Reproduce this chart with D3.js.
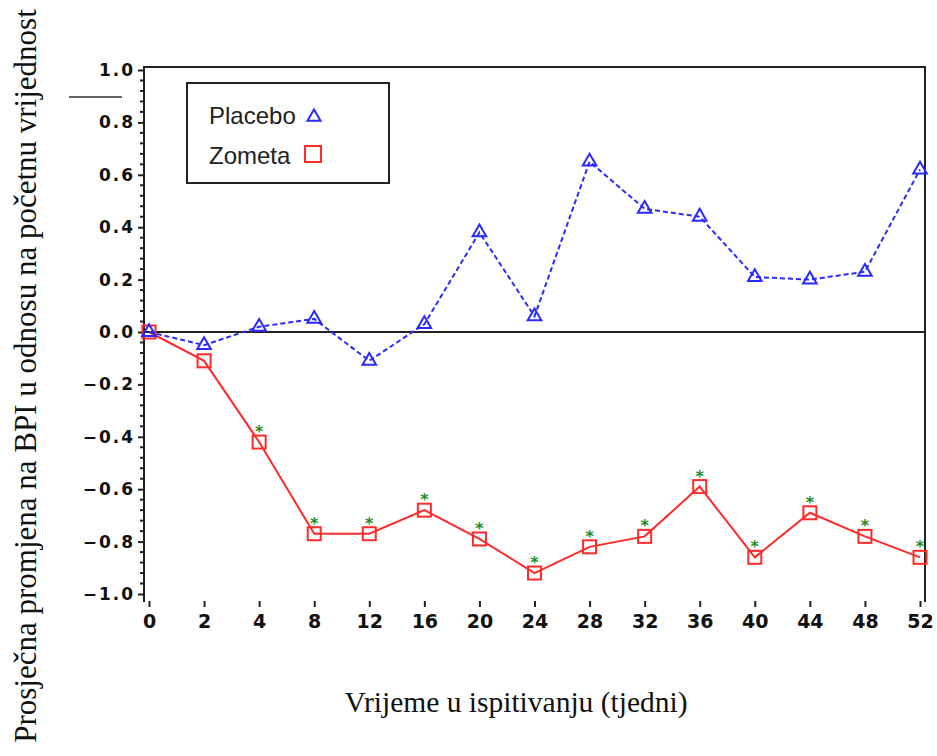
<!DOCTYPE html>
<html>
<head>
<meta charset="utf-8">
<script src="https://cdn.jsdelivr.net/npm/d3@7.9.0/dist/d3.min.js"></script>
<style>
  body { margin: 0; background: #fff; }
  svg { display: block; }
</style>
</head>
<body>
<svg id="chart" width="937" height="756"></svg>
<script>
// weeks on the x axis (equally spaced categories)
const weeks = ['0', '2', '4', '8', '12', '16', '20', '24', '28', '32', '36', '40', '44', '48', '52'];
const placebo = [0.0, -0.05, 0.02, 0.05, -0.11, 0.03, 0.38, 0.06, 0.65, 0.47, 0.44, 0.21, 0.20, 0.23, 0.62];
const zometa = [0.0, -0.11, -0.42, -0.77, -0.77, -0.68, -0.79, -0.92, -0.82, -0.78, -0.59, -0.86, -0.69, -0.78, -0.86];
// weeks where zometa differs significantly (asterisk)
const starred = ['4', '8', '12', '16', '20', '24', '28', '32', '36', '40', '44', '48', '52'];
const yTicks = [1.0, 0.8, 0.6, 0.4, 0.2, 0.0, -0.2, -0.4, -0.6, -0.8, -1.0];

const blue = '#2a2aff', red = '#ff2a2a', green = '#1f8a1f';

const svg = d3.select('#chart');

let x = d3.scalePoint().domain(weeks).range([149, 920]);
let y = d3.scaleLinear().domain([-1, 1]).range([594, 70]);

// frame: left, top, right (no bottom line)
svg.append('path')
  .attr('d', `M144,602 V67 H925 V602`)
  .attr('fill', 'none')
  .attr('stroke', '#222')
  .attr('stroke-width', 2);

// y axis major ticks + labels
let yAxis = d3.axisLeft(y)
  .tickValues(yTicks)
  .tickSize(6)
  .tickPadding(3)
  .tickFormat(d => d3.format('.1f')(d).replace('-', '\u2013'));
let gy = svg.append('g').attr('transform', 'translate(144,0)').call(yAxis);
gy.select('.domain').remove();
gy.selectAll('line').attr('stroke', '#222').attr('stroke-width', 2);
gy.selectAll('text')
  .attr('font-family', 'DejaVu Sans, sans-serif')
  .attr('font-weight', 'bold')
  .attr('font-size', 17)
  .attr('letter-spacing', 2)
  .attr('fill', '#111');

// minor ticks every 0.04
let minor = d3.range(-1, 1.0001, 0.04).filter(v => Math.abs(Math.round(v * 5) - v * 5) > 0.01);
svg.append('g').selectAll('line').data(minor).join('line')
  .attr('x1', 140).attr('x2', 144)
  .attr('y1', d => y(d)).attr('y2', d => y(d))
  .attr('stroke', '#222').attr('stroke-width', 2);

// x axis: ticks detached below the plot
let xAxis = d3.axisBottom(x).tickSize(6).tickPadding(8);
let gx = svg.append('g').attr('transform', 'translate(0,601)').call(xAxis);
gx.select('.domain').remove();
gx.selectAll('line').attr('stroke', '#222').attr('stroke-width', 2);
gx.selectAll('text')
  .attr('font-family', 'DejaVu Sans, sans-serif')
  .attr('font-weight', 'bold')
  .attr('font-size', 19)
  .attr('fill', '#111');

// zero reference line
svg.append('line')
  .attr('x1', 144).attr('x2', 925)
  .attr('y1', y(0)).attr('y2', y(0))
  .attr('stroke', '#222').attr('stroke-width', 2);

// stray mark left of the axis
svg.append('line')
  .attr('x1', 69).attr('x2', 122).attr('y1', 97).attr('y2', 97)
  .attr('stroke', '#333').attr('stroke-width', 1.5);

let line = d3.line().x((d, i) => x(weeks[i])).y(d => y(d));

// zometa line + squares
svg.append('path')
  .datum(zometa)
  .attr('d', line)
  .attr('fill', 'none')
  .attr('stroke', red)
  .attr('stroke-width', 2);

svg.append('g').selectAll('rect').data(zometa).join('rect')
  .attr('x', (d, i) => x(weeks[i]) - 6.5)
  .attr('y', d => y(d) - 6.5)
  .attr('width', 13).attr('height', 13)
  .attr('fill', 'none')
  .attr('stroke', red)
  .attr('stroke-width', 2);

// significance asterisks
svg.append('g').selectAll('text').data(zometa.map((v, i) => [weeks[i], v]).filter(d => starred.includes(d[0])))
  .join('text')
  .attr('x', d => x(d[0]))
  .attr('y', d => y(d[1]) - 5)
  .attr('text-anchor', 'middle')
  .attr('font-family', 'DejaVu Sans, sans-serif')
  .attr('font-weight', 'bold')
  .attr('font-size', 16)
  .attr('fill', green)
  .text('*');

// placebo dashed line + triangles
svg.append('path')
  .datum(placebo)
  .attr('d', line)
  .attr('fill', 'none')
  .attr('stroke', blue)
  .attr('stroke-width', 2)
  .attr('stroke-dasharray', '5,3');

let tri = d3.symbol().type(d3.symbolTriangle).size(80);
svg.append('g').selectAll('path').data(placebo).join('path')
  .attr('transform', (d, i) => `translate(${x(weeks[i])},${y(d)})`)
  .attr('d', tri)
  .attr('fill', 'none')
  .attr('stroke', blue)
  .attr('stroke-width', 2);

// legend
let lg = svg.append('g');
lg.append('rect')
  .attr('x', 187).attr('y', 83).attr('width', 202).attr('height', 100)
  .attr('fill', '#fff').attr('stroke', '#222').attr('stroke-width', 2);
lg.append('text').attr('x', 209).attr('y', 124)
  .attr('font-family', 'Liberation Sans, Arial, sans-serif').attr('font-size', 24).attr('fill', '#222')
  .text('Placebo');
lg.append('path')
  .attr('transform', 'translate(314,117)')
  .attr('d', d3.symbol().type(d3.symbolTriangle).size(75))
  .attr('fill', 'none').attr('stroke', blue).attr('stroke-width', 2);
lg.append('text').attr('x', 209).attr('y', 164)
  .attr('font-family', 'Liberation Sans, Arial, sans-serif').attr('font-size', 24).attr('fill', '#222')
  .text('Zometa');
lg.append('rect')
  .attr('x', 305).attr('y', 146).attr('width', 16).attr('height', 16)
  .attr('fill', 'none').attr('stroke', red).attr('stroke-width', 2);

// axis titles
svg.append('text')
  .attr('transform', 'translate(36,376) rotate(-90)')
  .attr('text-anchor', 'middle')
  .attr('font-family', 'Liberation Serif, Times New Roman, serif')
  .attr('font-size', 31)
  .attr('fill', '#111')
  .text('Prosječna promjena na BPI u odnosu na početnu vrijednost');

svg.append('text')
  .attr('x', 516).attr('y', 712)
  .attr('text-anchor', 'middle')
  .attr('font-family', 'Liberation Serif, Times New Roman, serif')
  .attr('font-size', 29.5)
  .attr('fill', '#111')
  .text('Vrijeme u ispitivanju (tjedni)');
</script>
</body>
</html>
